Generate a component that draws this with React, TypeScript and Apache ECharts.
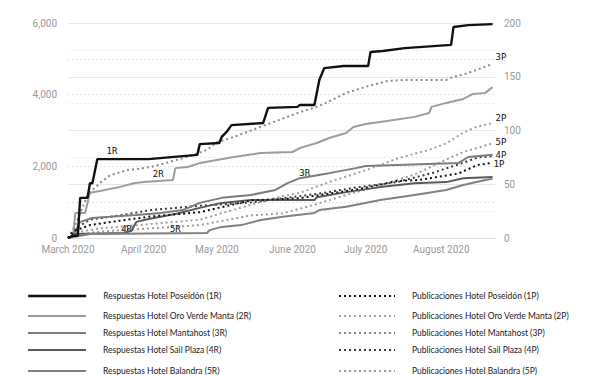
import React, { useEffect, useRef } from 'react';
import * as echarts from 'echarts';

type Pt = [string, number];

const monthNames = ['January', 'February', 'March', 'April', 'May', 'June', 'July', 'August', 'September', 'October', 'November', 'December'];
const leftAxisLabels = [0, 2000, 4000, 6000];
const rightAxisLabels = [0, 50, 100, 150, 200];

const respuestasNames = [
  'Respuestas Hotel Poseidón (1R)',
  'Respuestas Hotel Oro Verde Manta (2R)',
  'Respuestas Hotel Mantahost (3R)',
  'Respuestas Hotel Sail Plaza (4R)',
  'Respuestas Hotel Balandra (5R)',
];
const publicacionesNames = [
  'Publicaciones Hotel Poseidón (1P)',
  'Publicaciones Hotel Oro Verde Manta (2P)',
  'Publicaciones Hotel Mantahost (3P)',
  'Publicaciones Hotel Sail Plaza (4P)',
  'Publicaciones Hotel Balandra (5P)',
];
const respuestasTags = ['1R', '2R', '3R', '4R', '5R'];
const publicacionesTags = ['1P', '2P', '3P', '4P', '5P'];

const resp1: Pt[] = [
  ['2020-03-01', 0], ['2020-03-03', 60], ['2020-03-05', 60], ['2020-03-06', 1120], ['2020-03-09', 1120],
  ['2020-03-10', 1530], ['2020-03-11', 1530], ['2020-03-13', 2200], ['2020-04-03', 2200], ['2020-04-23', 2320],
  ['2020-04-24', 2620], ['2020-05-02', 2650], ['2020-05-03', 2820], ['2020-05-05', 2960], ['2020-05-07', 3150],
  ['2020-05-20', 3210], ['2020-05-22', 3630], ['2020-06-03', 3660], ['2020-06-04', 3710], ['2020-06-10', 3710],
  ['2020-06-12', 4410], ['2020-06-14', 4740], ['2020-06-22', 4800], ['2020-07-02', 4800], ['2020-07-03', 5190],
  ['2020-07-08', 5220], ['2020-07-17', 5300], ['2020-08-05', 5390], ['2020-08-06', 5890], ['2020-08-12', 5940],
  ['2020-08-22', 5970],
];
const resp2: Pt[] = [
  ['2020-03-01', 0], ['2020-03-03', 30], ['2020-03-04', 700], ['2020-03-08', 700], ['2020-03-10', 1260],
  ['2020-03-14', 1310], ['2020-03-22', 1420], ['2020-03-28', 1530], ['2020-04-01', 1560], ['2020-04-13', 1620],
  ['2020-04-14', 1950], ['2020-04-19', 1980], ['2020-04-24', 2090], ['2020-05-08', 2260], ['2020-05-19', 2370],
  ['2020-06-01', 2400], ['2020-06-04', 2510], ['2020-06-11', 2650], ['2020-06-16', 2790], ['2020-06-23', 2930],
  ['2020-06-26', 3100], ['2020-07-01', 3180], ['2020-07-07', 3240], ['2020-07-21', 3380], ['2020-07-27', 3490],
  ['2020-07-28', 3660], ['2020-08-03', 3770], ['2020-08-10', 3880], ['2020-08-14', 4020], ['2020-08-19', 4050],
  ['2020-08-22', 4210],
];
const resp3: Pt[] = [
  ['2020-03-01', 0], ['2020-03-03', 60], ['2020-03-06', 450], ['2020-03-11', 560], ['2020-03-18', 590],
  ['2020-03-29', 640], ['2020-04-08', 700], ['2020-04-17', 780], ['2020-04-24', 980], ['2020-05-03', 1120],
  ['2020-05-15', 1200], ['2020-05-25', 1340], ['2020-05-30', 1530], ['2020-06-04', 1670], ['2020-06-16', 1810],
  ['2020-06-27', 1950], ['2020-07-01', 2010], ['2020-07-14', 2040], ['2020-08-08', 2090], ['2020-08-12', 2260],
  ['2020-08-22', 2320],
];
const resp4: Pt[] = [
  ['2020-03-01', 0], ['2020-03-04', 110], ['2020-03-24', 140], ['2020-03-27', 200], ['2020-03-29', 450],
  ['2020-04-03', 530], ['2020-04-14', 670], ['2020-04-24', 840], ['2020-05-03', 980], ['2020-05-15', 1060],
  ['2020-06-10', 1060], ['2020-06-11', 1140], ['2020-06-23', 1280], ['2020-07-07', 1420], ['2020-07-21', 1530],
  ['2020-08-03', 1560], ['2020-08-10', 1670], ['2020-08-22', 1700],
];
const resp5: Pt[] = [
  ['2020-03-01', 0], ['2020-03-10', 110], ['2020-04-27', 140], ['2020-04-28', 220], ['2020-05-03', 310],
  ['2020-05-11', 360], ['2020-05-19', 500], ['2020-05-28', 590], ['2020-06-10', 700], ['2020-06-12', 780],
  ['2020-06-23', 870], ['2020-07-07', 1060], ['2020-07-21', 1200], ['2020-08-03', 1340], ['2020-08-10', 1480],
  ['2020-08-19', 1620], ['2020-08-22', 1650],
];

const pub1: Pt[] = [
  ['2020-03-01', 0], ['2020-03-04', 7], ['2020-03-10', 12], ['2020-03-22', 16], ['2020-04-04', 20],
  ['2020-04-24', 24], ['2020-05-15', 35], ['2020-06-04', 37], ['2020-06-15', 41], ['2020-06-27', 45],
  ['2020-07-14', 53], ['2020-07-23', 54], ['2020-08-08', 60], ['2020-08-16', 68], ['2020-08-22', 70],
];
const pub2: Pt[] = [
  ['2020-03-01', 0], ['2020-03-04', 5], ['2020-03-14', 9], ['2020-04-04', 13], ['2020-04-24', 17],
  ['2020-05-15', 31], ['2020-05-28', 39], ['2020-06-04', 42], ['2020-06-16', 52], ['2020-07-01', 63],
  ['2020-07-14', 74], ['2020-07-27', 82], ['2020-08-03', 88], ['2020-08-10', 98], ['2020-08-15', 103],
  ['2020-08-22', 107],
];
const pub3: Pt[] = [
  ['2020-03-01', 0], ['2020-03-04', 12], ['2020-03-09', 40], ['2020-03-14', 51], ['2020-03-18', 58],
  ['2020-03-25', 63], ['2020-04-04', 66], ['2020-04-12', 71], ['2020-04-21', 77], ['2020-04-27', 82],
  ['2020-05-01', 89], ['2020-05-08', 94], ['2020-05-22', 106], ['2020-06-04', 117], ['2020-06-11', 122],
  ['2020-06-16', 127], ['2020-06-23', 135], ['2020-06-26', 137], ['2020-07-03', 142], ['2020-07-10', 146],
  ['2020-07-17', 147], ['2020-08-03', 147], ['2020-08-06', 150], ['2020-08-10', 152], ['2020-08-15', 156],
  ['2020-08-22', 162],
];
const pub4: Pt[] = [
  ['2020-03-01', 0], ['2020-03-04', 9], ['2020-03-10', 17], ['2020-03-22', 21], ['2020-04-04', 26],
  ['2020-04-24', 30], ['2020-05-15', 33], ['2020-06-14', 42], ['2020-06-27', 47], ['2020-07-14', 52],
  ['2020-07-29', 61], ['2020-08-10', 70], ['2020-08-16', 75], ['2020-08-22', 76],
];
const pub5: Pt[] = [
  ['2020-03-01', 0], ['2020-03-04', 3], ['2020-03-14', 6], ['2020-04-04', 9], ['2020-04-24', 12],
  ['2020-05-15', 21], ['2020-05-28', 23], ['2020-06-10', 31], ['2020-06-23', 40], ['2020-07-07', 49],
  ['2020-07-21', 59], ['2020-08-03', 73], ['2020-08-10', 80], ['2020-08-22', 88],
];

// in-plot tags for the response lines: [date, value]
const respuestasTagPos: Pt[] = [
  ['2020-03-19', 2430],
  ['2020-04-07', 1790],
  ['2020-06-06', 1810],
  ['2020-03-25', 250],
  ['2020-04-14', 250],
];

const respuestasData = [resp1, resp2, resp3, resp4, resp5];
const publicacionesData = [pub1, pub2, pub3, pub4, pub5];

const respColors = ['#111111', '#9c9c9c', '#7c7c7c', '#5a5a5a', '#808080'];
const respWidths = [2.4, 2, 2, 2, 2];
const pubColors = ['#111111', '#a0a0a0', '#8a8a8a', '#3c3c3c', '#9c9c9c'];
const pubTagOffsets = [[-2, 1], [0, -5], [0, -7], [0, -1], [0, -1]];
const legendRowTops = [286, 306, 323, 340, 361];

const toTime = (s: string) => {
  const [y, m, d] = s.split('-').map(Number);
  return new Date(y, m - 1, d).getTime();
};

const tagLabel = {
  color: '#111',
  fontSize: 9,
  fontFamily: 'DejaVu Sans Mono',
};

export default function App() {
  const ref = useRef<HTMLDivElement>(null);
  useEffect(() => {
    if (!ref.current) return;
    const chart = echarts.init(ref.current, undefined, { renderer: 'svg' });

    const series: any[] = [];
    respuestasData.forEach((d, i) => {
      series.push({
        type: 'line',
        name: respuestasNames[i],
        yAxisIndex: 0,
        data: d.map(([t, v]) => [toTime(t), v]),
        showSymbol: false,
        symbol: 'circle',
        z: i === 0 ? 10 : 5,
        lineStyle: { color: respColors[i], width: respWidths[i], type: 'solid' },
        itemStyle: { color: respColors[i] },
        emphasis: { disabled: true },
        markPoint: {
          symbol: 'circle',
          symbolSize: 1,
          silent: true,
          itemStyle: { color: 'rgba(0,0,0,0)' },
          label: { show: true, position: 'inside', formatter: respuestasTags[i], ...tagLabel },
          data: [{ name: respuestasTags[i], coord: [toTime(respuestasTagPos[i][0]), respuestasTagPos[i][1]] }],
        },
      });
    });
    publicacionesData.forEach((d, i) => {
      series.push({
        type: 'line',
        name: publicacionesNames[i],
        yAxisIndex: 1,
        data: d.map(([t, v]) => [toTime(t), v]),
        showSymbol: false,
        symbol: 'circle',
        z: i === 0 ? 9 : 4,
        lineStyle: { color: pubColors[i], width: 2, type: [2, 3] },
        itemStyle: { color: pubColors[i] },
        emphasis: { disabled: true },
        endLabel: {
          show: true,
          formatter: publicacionesTags[i],
          distance: 3,
          offset: pubTagOffsets[i],
          ...tagLabel,
        },
      });
    });

    const legendCommon = {
      orient: 'horizontal',
      itemHeight: 10,
      selectedMode: false,
      itemStyle: { opacity: 0 },
      lineStyle: { width: 'inherit', type: 'inherit' },
      textStyle: { fontSize: 8.5, fontFamily: 'Lato', color: '#1a1a1a', lineHeight: 10, padding: [0, 0, 0, 12] },
    };
    const legends: any[] = [];
    legendRowTops.forEach((top, i) => {
      legends.push({ ...legendCommon, left: 22, top, itemWidth: 58, data: [respuestasNames[i]] });
      legends.push({ ...legendCommon, left: 333, top, itemWidth: 56, data: [publicacionesNames[i]] });
    });

    chart.setOption({
      animation: false,
      backgroundColor: '#ffffff',
      grid: { left: 68, right: 107, top: 23, bottom: 137 },
      legend: legends,
      xAxis: {
        type: 'time',
        min: toTime('2020-03-01'),
        max: toTime('2020-08-23'),
        minInterval: 28 * 86400000,
        maxInterval: 31 * 86400000,
        axisLine: { show: true, lineStyle: { color: '#dddddd' } },
        axisTick: { show: false },
        splitLine: { show: false },
        axisLabel: {
          color: '#9a9a9a',
          fontSize: 10,
          fontFamily: 'Roboto',
          margin: 6,
          showMinLabel: true,
          showMaxLabel: false,
          hideOverlap: false,
          formatter: (val: number) => {
            const d = new Date(val);
            return d.getDate() === 1 ? `${monthNames[d.getMonth()]} ${d.getFullYear()}` : '';
          },
        },
      },
      yAxis: [
        {
          type: 'value',
          position: 'left',
          min: 0,
          max: 6000,
          interval: 1000,
          axisLine: { show: false },
          axisTick: { show: false },
          axisLabel: {
            color: '#9a9a9a',
            fontSize: 10,
            fontFamily: 'Roboto',
            margin: 11,
            formatter: (v: number) => (leftAxisLabels.includes(v) ? v.toLocaleString('en-US') : ''),
          },
          splitLine: { show: true, lineStyle: { color: '#e2e2e2', type: [2, 2] } },
        },
        {
          type: 'value',
          position: 'right',
          min: 0,
          max: 200,
          interval: 50,
          axisLine: { show: false },
          axisTick: { show: false },
          minorTick: { show: false, splitNumber: 2 },
          minorSplitLine: { show: true, lineStyle: { color: '#ececec', type: [2, 2] } },
          axisLabel: {
            color: '#9a9a9a',
            fontSize: 10,
            fontFamily: 'Roboto',
            margin: 9,
            formatter: (v: number) => (rightAxisLabels.includes(v) ? String(v) : ''),
          },
          splitLine: { show: true, lineStyle: { color: '#e6e6e6', type: 'solid' } },
        },
      ],
      series,
    });

    return () => chart.dispose();
  }, []);

  return (
    <div
      ref={ref}
      style={{ position: 'absolute', left: 0, top: 0, width: 602, height: 375, background: '#fff' }}
    />
  );
}
